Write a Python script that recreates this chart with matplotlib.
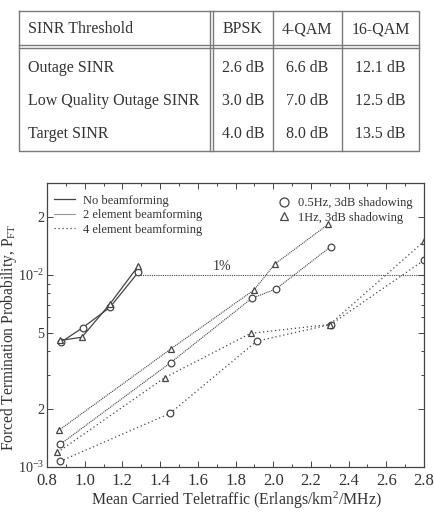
import numpy as np
import matplotlib
matplotlib.use("Agg")
import matplotlib.pyplot as plt
from matplotlib.lines import Line2D
from matplotlib.ticker import FixedLocator, NullFormatter, MultipleLocator

plt.rcParams.update({
    "font.family": "serif",
    "font.serif": ["Liberation Serif", "DejaVu Serif"],
    "mathtext.fontset": "custom",
    "mathtext.rm": "Liberation Serif",
    "mathtext.it": "Liberation Serif",
    "font.size": 10,
})

TXT = "#333333"
GRID = "#7a7a7a"

# ── Table data ───────────────────────────────────────────────────────────────
col_headers = ["SINR Threshold", "BPSK", "4-QAM", "16-QAM"]
row_labels = ["Outage SINR", "Low Quality Outage SINR", "Target SINR"]
bpsk = ["2.6 dB", "3.0 dB", "4.0 dB"]
qam4 = ["6.6 dB", "7.0 dB", "8.0 dB"]
qam16 = ["12.1 dB", "12.5 dB", "13.5 dB"]

# ── Plot data ────────────────────────────────────────────────────────────────
nobf_circ_x = [0.874, 0.989, 1.134, 1.284]
nobf_circ_y = [4.46e-3, 5.3e-3, 6.77e-3, 1.03e-2]
nobf_tri_x = [0.869, 0.985, 1.134, 1.284]
nobf_tri_y = [4.55e-3, 4.73e-3, 7.05e-3, 1.11e-2]

bf2_circ_x = [0.869, 1.456, 1.886, 2.015, 2.305]
bf2_circ_y = [1.31e-3, 3.49e-3, 7.54e-3, 8.43e-3, 1.40e-2]
bf2_tri_x = [0.862, 1.458, 1.898, 2.01, 2.292]
bf2_tri_y = [1.55e-3, 4.12e-3, 8.33e-3, 1.14e-2, 1.83e-2]

bf4_circ_x = [0.869, 1.452, 1.912, 2.305, 2.8]
bf4_circ_y = [1.07e-3, 1.9e-3, 4.51e-3, 5.51e-3, 1.19e-2]
bf4_tri_x = [0.855, 1.426, 1.881, 2.30, 2.8]
bf4_tri_y = [1.19e-3, 2.92e-3, 4.96e-3, 5.51e-3, 1.49e-2]

one_pct_x = [1.284, 2.8]
one_pct_y = [1e-2, 1e-2]

W, H = 434, 514
fig = plt.figure(figsize=(W / 100, H / 100), dpi=100)

# ── Table drawn in pixel coordinates ─────────────────────────────────────────
tax = fig.add_axes([0, 0, 1, 1])
tax.set_xlim(0, W)
tax.set_ylim(H, 0)
tax.axis("off")

x0, x1 = 19, 419
cx = [210, 273, 342]
y_top, y_head, y_bot = 11, 45, 151
lkw = dict(color=GRID, lw=1.0)
tax.plot([x0, x1, x1, x0, x0], [y_top, y_top, y_bot, y_bot, y_top], **lkw)
tax.plot([x0, x1], [y_head, y_head], **lkw)
tax.plot([x0, x1], [y_head + 2.5, y_head + 2.5], **lkw)
tax.plot([cx[0], cx[0]], [y_top, y_bot], **lkw)
tax.plot([cx[0] + 2.5, cx[0] + 2.5], [y_top, y_bot], **lkw)
tax.plot([cx[1], cx[1]], [y_top, y_bot], **lkw)
tax.plot([cx[2], cx[2]], [y_top, y_bot], **lkw)

fs_t = 11.5
tax.text(28, 29, col_headers[0], ha="left", va="center", fontsize=fs_t, color=TXT)
centers = [(cx[0] + 2.5 + cx[1]) / 2, (cx[1] + cx[2]) / 2, (cx[2] + x1) / 2]
for c, h in zip(centers, col_headers[1:]):
    tax.text(c, 29, h, ha="center", va="center", fontsize=fs_t, color=TXT)
row_y = [68, 101, 134]
for ry, lab, a, b, c in zip(row_y, row_labels, bpsk, qam4, qam16):
    tax.text(28, ry, lab, ha="left", va="center", fontsize=fs_t, color=TXT)
    tax.text(centers[0], ry, a, ha="center", va="center", fontsize=fs_t, color=TXT)
    tax.text(centers[1], ry, b, ha="center", va="center", fontsize=fs_t, color=TXT)
    tax.text(centers[2], ry, c, ha="center", va="center", fontsize=fs_t, color=TXT)

# axis labels placed in pixel coordinates
tax.text(236, 500, r"Mean Carried Teletraffic (Erlangs/km$^2$/MHz)",
         ha="center", va="center", fontsize=11.4, color=TXT)
tax.text(9.5, 337, r"Forced Termination Probability, P$_{\mathrm{FT}}$",
         ha="center", va="center", rotation=90, fontsize=11.2, color=TXT)

# ── Plot ─────────────────────────────────────────────────────────────────────
ax = fig.add_axes([47 / W, (H - 467) / H, 377 / W, 284 / H])
ax.set_yscale("log")

LC = "#444444"
ls_solid = "-"
ls_2 = (0, (1, 0.8))
ls_4 = (0, (1, 2.2))
mk = dict(mfc="white", mec=LC, mew=0.9)

ax.plot(one_pct_x, one_pct_y, ls=(0, (1, 1)), color=LC, lw=0.8)
ax.text(1.73, 1.02e-2, "1%", ha="center", va="bottom", fontsize=10, color=TXT)

ax.plot(nobf_circ_x, nobf_circ_y, ls=ls_solid, color=LC, lw=0.9, marker="o", ms=4.8, **mk)
ax.plot(nobf_tri_x, nobf_tri_y, ls=ls_solid, color=LC, lw=0.9, marker="^", ms=4.6, **mk)
ax.plot(bf2_circ_x, bf2_circ_y, ls=ls_2, color=LC, lw=0.8, marker="o", ms=4.8, **mk)
ax.plot(bf2_tri_x, bf2_tri_y, ls=ls_2, color=LC, lw=0.8, marker="^", ms=4.6, **mk)
ax.plot(bf4_circ_x, bf4_circ_y, ls=ls_4, color=LC, lw=0.9, marker="o", ms=4.8, **mk)
ax.plot(bf4_tri_x, bf4_tri_y, ls=ls_4, color=LC, lw=0.9, marker="^", ms=4.6, **mk)

ax.set_xlim(0.8, 2.8)
ax.set_ylim(1e-3, 3e-2)
ax.xaxis.set_major_locator(MultipleLocator(0.2))
ax.xaxis.set_minor_locator(MultipleLocator(0.1))
ax.set_xticklabels([f"{v:.1f}" for v in ax.get_xticks()])
ax.yaxis.set_major_locator(FixedLocator([1e-3, 2e-3, 5e-3, 1e-2, 2e-2]))
ax.set_yticklabels([r"10$^{-3}$", "2", "5", r"10$^{-2}$", "2"])
minor = [k * 1e-3 for k in (3, 4, 6, 7, 8, 9)] + [3e-2]
ax.yaxis.set_minor_locator(FixedLocator(minor))
ax.yaxis.set_minor_formatter(NullFormatter())
ax.tick_params(which="both", direction="in", top=True, right=True, colors=LC,
               labelcolor=TXT, width=0.7)
ax.tick_params(which="major", length=4, labelsize=12, pad=4.5)
ax.tick_params(axis="y", which="major", labelsize=10.2, pad=2)
ax.tick_params(which="minor", length=2.5)
for s in ax.spines.values():
    s.set_color(LC)
    s.set_linewidth(0.9)

h1 = [Line2D([], [], color=LC, ls=ls_solid, lw=0.9),
      Line2D([], [], color=LC, ls=ls_2, lw=0.8),
      Line2D([], [], color=LC, ls=ls_4, lw=0.9)]
leg1 = ax.legend(h1, ["No beamforming", "2 element beamforming", "4 element beamforming"],
                 loc="upper left", bbox_to_anchor=(-0.005, 0.99), frameon=False,
                 fontsize=9, handlelength=1.7, handletextpad=0.6, labelspacing=0.2,
                 borderaxespad=0.3, labelcolor=TXT)
ax.add_artist(leg1)
h2 = [Line2D([], [], ls="none", marker="o", ms=6.5, **mk),
      Line2D([], [], ls="none", marker="^", ms=6, **mk)]
ax.legend(h2, ["0.5Hz, 3dB shadowing", "1Hz, 3dB shadowing"],
          loc="upper right", bbox_to_anchor=(1.0, 0.99), frameon=False,
          fontsize=9, handlelength=1.0, handletextpad=0.6, labelspacing=0.2,
          labelcolor=TXT)

fig.savefig("out.png", dpi=100)
